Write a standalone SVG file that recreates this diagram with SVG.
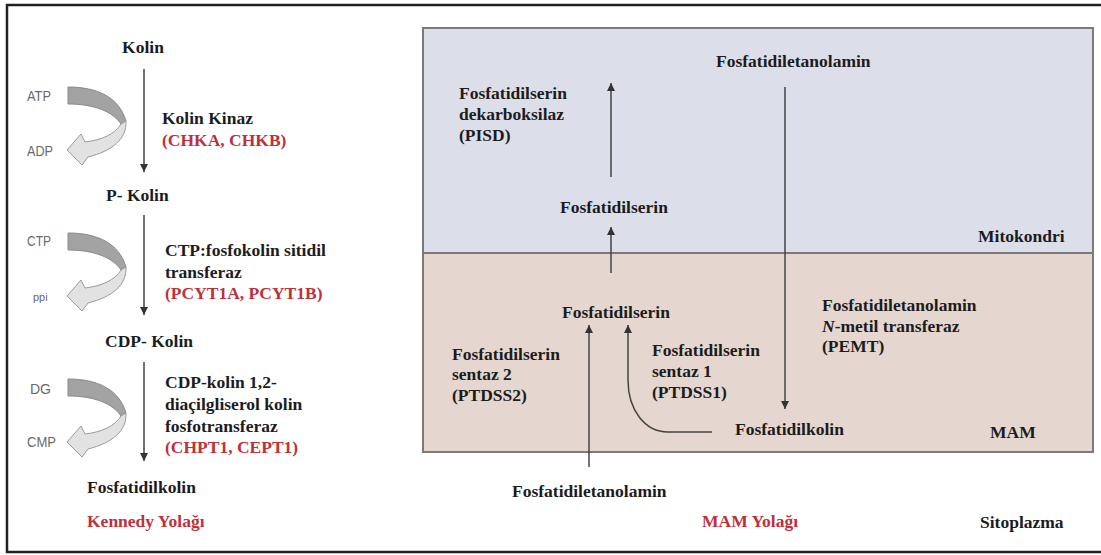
<svg xmlns="http://www.w3.org/2000/svg" width="1101" height="555" viewBox="0 0 1101 555">
<style>
.t{font-family:"Liberation Serif","Times New Roman",serif;font-weight:bold;font-size:17.5px;fill:#1c1c1c}
.r{fill:#c0303a}
.g{font-family:"Liberation Sans",Arial,sans-serif;font-size:14px;fill:#6a6a6a}
.c{fill:none;stroke:#444;stroke-width:1.5}
.dk{fill:#a3a3a3;stroke:#8a8a8a;stroke-width:1}
.lt{fill:#e2e2e2;stroke:#9a9a9a;stroke-width:1}
</style>
<defs>
<marker id="ah" markerUnits="userSpaceOnUse" markerWidth="8" markerHeight="9" refX="8" refY="4" orient="auto">
<path d="M0,0 L8,4 L0,8 Z" fill="#333"/>
</marker>
<g id="ribbon">
<path class="dk" d="M 68 87 C 97 87 119 97 126 121 L 121 124 C 113 112 95 104 68 104 Z"/>
<path class="lt" d="M 126 121 C 127 139 112 151 88 157 L 82 165 L 67 150 L 81 134 L 85 142 C 102 140 115 134 121 124 Z"/>
</g>
</defs>
<rect x="0" y="0" width="1101" height="555" fill="#fff"/>
<rect x="7" y="5" width="1100" height="547" fill="#fff" stroke="#222" stroke-width="2.5"/>

<g id="compartments">
<rect x="423" y="28" width="670" height="225" fill="#dcdfe9" stroke="#7a7a7a" stroke-width="2"/>
<rect x="423" y="253" width="670" height="199" fill="#e5d7cf" stroke="#7a7a7a" stroke-width="2"/>
</g>

<g id="cofactors">
<use href="#ribbon"/>
<use href="#ribbon" transform="translate(0,146)"/>
<use href="#ribbon" transform="translate(0,292)"/>
<text class="g" x="27" y="101" textLength="24" lengthAdjust="spacingAndGlyphs">ATP</text>
<text class="g" x="27" y="156" textLength="26" lengthAdjust="spacingAndGlyphs">ADP</text>
<text class="g" x="27" y="246" textLength="24" lengthAdjust="spacingAndGlyphs">CTP</text>
<text class="g" x="33" y="301" style="font-size:11px">ppi</text>
<text class="g" x="30" y="394" textLength="21" lengthAdjust="spacingAndGlyphs">DG</text>
<text class="g" x="27" y="447" textLength="29" lengthAdjust="spacingAndGlyphs">CMP</text>
</g>

<g id="connectors">
<line class="c" x1="144" y1="69" x2="144" y2="172" marker-end="url(#ah)"/>
<line class="c" x1="144" y1="215" x2="144" y2="315" marker-end="url(#ah)"/>
<line class="c" x1="144" y1="362" x2="144" y2="461" marker-end="url(#ah)"/>
<line class="c" x1="611" y1="177" x2="611" y2="83" marker-end="url(#ah)"/>
<line class="c" x1="611" y1="273" x2="611" y2="227" marker-end="url(#ah)"/>
<line class="c" x1="785" y1="87" x2="785" y2="409" marker-end="url(#ah)"/>
<line class="c" x1="589" y1="467" x2="589" y2="325" marker-end="url(#ah)"/>
<path class="c" d="M 712 432 L 668 432 C 645 432 628 410 628 380 L 628 325" marker-end="url(#ah)"/>
</g>

<g id="kolin"><text class="t" x="143" y="53" text-anchor="middle">Kolin</text></g>
<g id="kolin-kinaz">
<text class="t" x="162" y="124">Kolin Kinaz</text>
<text class="t r" x="162" y="146">(CHKA, CHKB)</text>
</g>
<g id="p-kolin"><text class="t" x="106" y="201">P- Kolin</text></g>
<g id="pcyt">
<text class="t" x="165" y="256">CTP:fosfokolin sitidil</text>
<text class="t" x="165" y="278">transferaz</text>
<text class="t r" x="165" y="299">(PCYT1A, PCYT1B)</text>
</g>
<g id="cdp-kolin"><text class="t" x="105" y="347">CDP- Kolin</text></g>
<g id="chpt">
<text class="t" x="165" y="388">CDP-kolin 1,2-</text>
<text class="t" x="165" y="410">diaçilgliserol kolin</text>
<text class="t" x="165" y="432">fosfotransferaz</text>
<text class="t r" x="165" y="453">(CHPT1, CEPT1)</text>
</g>
<g id="fosfatidilkolin-kennedy"><text class="t" x="87" y="493">Fosfatidilkolin</text></g>
<g id="kennedy-label"><text class="t r" x="87" y="527">Kennedy Yolağı</text></g>

<g id="pe-mito"><text class="t" x="716" y="67">Fosfatidiletanolamin</text></g>
<g id="pisd">
<text class="t" x="459" y="99">Fosfatidilserin</text>
<text class="t" x="459" y="120">dekarboksilaz</text>
<text class="t" x="459" y="141">(PISD)</text>
</g>
<g id="ps-mito"><text class="t" x="560" y="213">Fosfatidilserin</text></g>
<g id="mitokondri-label"><text class="t" x="978" y="242">Mitokondri</text></g>
<g id="ps-mam"><text class="t" x="562" y="318">Fosfatidilserin</text></g>
<g id="ptdss2">
<text class="t" x="452" y="360">Fosfatidilserin</text>
<text class="t" x="452" y="380">sentaz 2</text>
<text class="t" x="452" y="401">(PTDSS2)</text>
</g>
<g id="ptdss1">
<text class="t" x="652" y="356">Fosfatidilserin</text>
<text class="t" x="652" y="377">sentaz 1</text>
<text class="t" x="652" y="398">(PTDSS1)</text>
</g>
<g id="pemt">
<text class="t" x="822" y="311">Fosfatidiletanolamin</text>
<text class="t" x="822" y="332"><tspan font-style="italic">N</tspan>-metil transferaz</text>
<text class="t" x="822" y="352">(PEMT)</text>
</g>
<g id="pc-mam"><text class="t" x="735" y="435">Fosfatidilkolin</text></g>
<g id="mam-label"><text class="t" x="990" y="438">MAM</text></g>
<g id="pe-cyto"><text class="t" x="512" y="497">Fosfatidiletanolamin</text></g>
<g id="mam-yolagi"><text class="t r" x="702" y="527">MAM Yolağı</text></g>
<g id="sitoplazma-label"><text class="t" x="980" y="528">Sitoplazma</text></g>
</svg>
